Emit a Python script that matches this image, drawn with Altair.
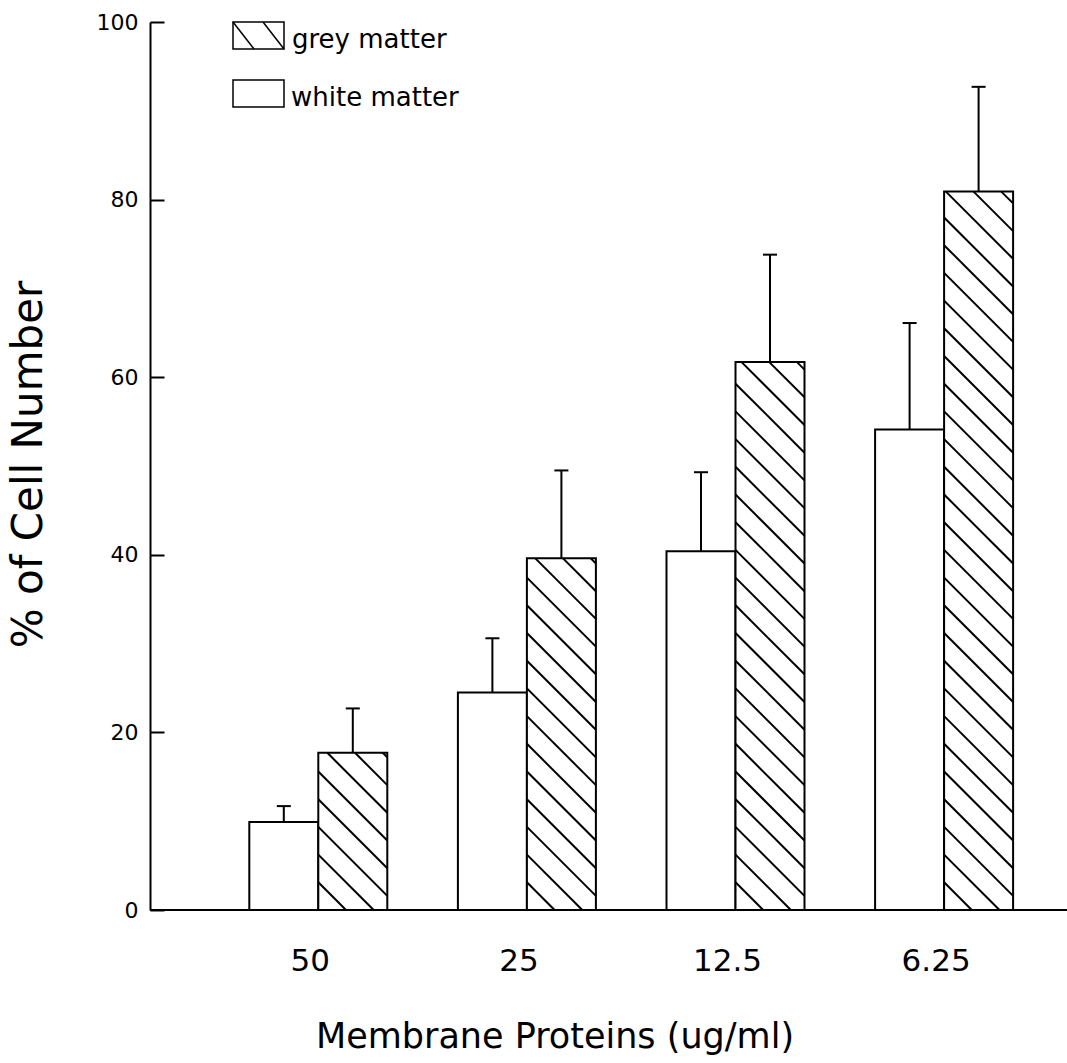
import altair as alt
import pandas as pd

# ---------------- data ----------------
concentrations = ["50", "25", "12.5", "6.25"]
white_mean = [9.9, 24.5, 40.4, 54.1]
white_err = [1.8, 6.1, 8.9, 12.0]
grey_mean = [17.7, 39.6, 61.7, 80.9]
grey_err = [5.0, 9.9, 12.1, 11.8]
series_names = ["grey matter", "white matter"]
y_ticks = [0, 20, 40, 60, 80, 100]
x_title = "Membrane Proteins (ug/ml)"
y_title = "% of Cell Number"

# ---------------- layout / style ----------------
FONT = "DejaVu Sans"
W, H = 917, 888
LEFT, TOP = 150, 22
PX_PER_GROUP = 208.6
BAR_PX = 69.0
BW = BAR_PX / PX_PER_GROUP
X0 = (LEFT - 318.3) / PX_PER_GROUP
X_DOMAIN = [X0, X0 + W / PX_PER_GROUP]
Y_PX = H / 100.0
HATCH_STEP = 27.7  # vertical spacing of hatch lines along bar edge (px)
LABEL_SHIFT = 8.0 / PX_PER_GROUP

xscale = alt.Scale(domain=X_DOMAIN, nice=False, zero=False)
yscale = alt.Scale(domain=[0, 100], nice=False, zero=True)

# ---------------- tables built from the arrays ----------------
rows = []
for i, c in enumerate(concentrations):
    rows.append(dict(conc=c, series=series_names[1], x=i - BW, x2=i,
                     val=white_mean[i], top=white_mean[i] + white_err[i], base=0))
    rows.append(dict(conc=c, series=series_names[0], x=i, x2=i + BW,
                     val=grey_mean[i], top=grey_mean[i] + grey_err[i], base=0))
bars_df = pd.DataFrame(rows)
bars_df["xc"] = (bars_df["x"] + bars_df["x2"]) / 2

# hatch ("\" lines at 45 degrees) inside each grey bar, derived from the bar heights
hatch = []
for i, v in enumerate(grey_mean):
    hpx = v * Y_PX
    k = 1
    while k * HATCH_STEP < hpx + BAR_PX:
        h0 = k * HATCH_STEP
        xs = max(0.0, h0 - hpx)
        xe = min(BAR_PX, h0)
        hatch.append(dict(x=i + xs / PX_PER_GROUP, x2=i + xe / PX_PER_GROUP,
                          y=(h0 - xs) / Y_PX, y2=(h0 - xe) / Y_PX))
        k += 1
hatch_df = pd.DataFrame(hatch)

labels_df = pd.DataFrame({"pos": [i - LABEL_SHIFT for i in range(len(concentrations))],
                          "label": concentrations})

one = pd.DataFrame({"k": [0]})

y_axis = alt.Axis(values=y_ticks, ticks=False, tickSize=0, grid=False,
                  domain=True, domainColor="black", domainWidth=2,
                  labelFont=FONT, labelFontSize=22, labelColor="black",
                  labelPadding=12, labelBaseline="middle", labelFlush=False,
                  title=y_title, titleFont=FONT, titleFontSize=42,
                  titleFontWeight="normal", titleColor="black",
                  titleX=-122, titleY=442, titleAlign="center", titleAngle=-90,
                  titleBaseline="middle")

y_ticks_axis = alt.Axis(orient="right", offset=-W, values=y_ticks, ticks=True,
                        tickSize=14, tickWidth=2, tickColor="black",
                        labels=False, domain=False, grid=False, title=None)

bars = alt.Chart(bars_df).mark_rect(fill="white", stroke="black", strokeWidth=2).encode(
    x=alt.X("x:Q", scale=xscale, axis=None),
    x2="x2:Q",
    y=alt.Y("val:Q", scale=yscale, axis=y_axis),
    y2="base:Q",
)

# x axis line (baseline at y = 0 across the whole plot width)
x_line = alt.Chart(one).mark_rule(color="black", strokeWidth=2).encode(
    y=alt.Y("datum_zero:Q", scale=yscale, axis=None),
    x=alt.value(0), x2=alt.value(W),
).transform_calculate(datum_zero="0")

hatch_layer = alt.Chart(hatch_df).mark_rule(color="black", strokeWidth=2).encode(
    x=alt.X("x:Q", scale=xscale, axis=None),
    x2="x2:Q",
    y=alt.Y("y:Q", scale=yscale, axis=None),
    y2="y2:Q",
)

err = alt.Chart(bars_df).mark_rule(color="black", strokeWidth=2).encode(
    x=alt.X("xc:Q", scale=xscale, axis=None),
    y=alt.Y("val:Q", scale=yscale, axis=None),
    y2="top:Q",
)

caps = alt.Chart(bars_df).mark_tick(orient="horizontal", size=14, thickness=2,
                                    color="black", opacity=1).encode(
    x=alt.X("xc:Q", scale=xscale, axis=None),
    y=alt.Y("top:Q", scale=yscale, axis=y_ticks_axis),
)

x_labels = alt.Chart(labels_df).mark_text(align="center", baseline="alphabetic",
                                          font=FONT, fontSize=31, color="black").encode(
    x=alt.X("pos:Q", scale=xscale, axis=None),
    y=alt.value(H + 61),
    text="label:N",
)

x_title_mark = alt.Chart(one).mark_text(align="center", baseline="alphabetic",
                                        font=FONT, fontSize=35, color="black").encode(
    x=alt.value(405), y=alt.value(H + 138), text=alt.value(x_title))

# ---------------- legend (drawn by hand) ----------------
leg_grey = alt.Chart(one).mark_rect(fill="white", stroke="black", strokeWidth=1.5).encode(
    x=alt.value(83), x2=alt.value(134), y=alt.value(0), y2=alt.value(27))
leg_grey_h1 = alt.Chart(one).mark_rule(color="black", strokeWidth=1.5).encode(
    x=alt.value(83), x2=alt.value(104), y=alt.value(0), y2=alt.value(27))
leg_grey_h2 = alt.Chart(one).mark_rule(color="black", strokeWidth=1.5).encode(
    x=alt.value(113), x2=alt.value(134), y=alt.value(0), y2=alt.value(27))
leg_white = alt.Chart(one).mark_rect(fill="white", stroke="black", strokeWidth=1.5).encode(
    x=alt.value(83), x2=alt.value(134), y=alt.value(58), y2=alt.value(85))
leg_t1 = alt.Chart(one).mark_text(align="left", baseline="alphabetic", font=FONT,
                                  fontSize=26, color="black").encode(
    x=alt.value(142), y=alt.value(26), text=alt.value(series_names[0]))
leg_t2 = alt.Chart(one).mark_text(align="left", baseline="alphabetic", font=FONT,
                                  fontSize=26, color="black").encode(
    x=alt.value(141), y=alt.value(84), text=alt.value(series_names[1]))

chart = alt.layer(
    bars, hatch_layer, err, caps, x_line, x_labels, x_title_mark,
    leg_grey, leg_grey_h1, leg_grey_h2, leg_white, leg_t1, leg_t2,
).resolve_scale(x="shared", y="shared").resolve_axis(y="independent").properties(
    width=W, height=H,
    padding={"left": LEFT, "top": TOP, "right": 0, "bottom": 1063 - TOP - H},
    autosize=alt.AutoSizeParams(type="none"),
    background="white",
).configure_view(stroke=None)

chart.save("out.html", embed_options={"renderer": "svg", "actions": False})
